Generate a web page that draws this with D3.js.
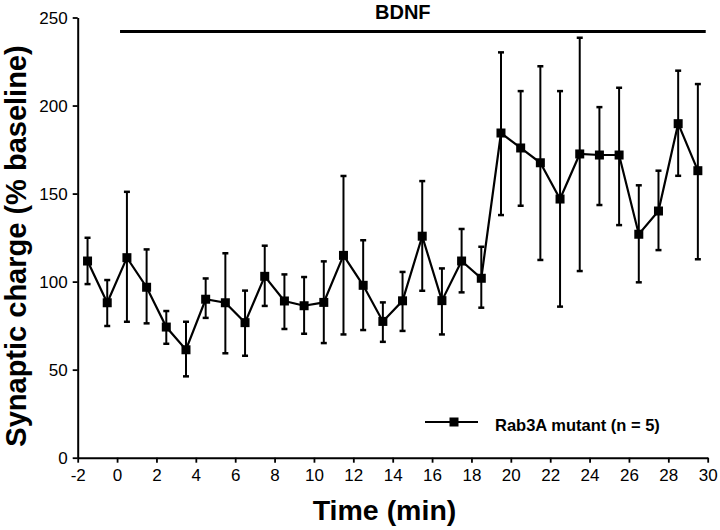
<!DOCTYPE html>
<html>
<head>
<meta charset="utf-8">
<script src="https://cdn.jsdelivr.net/npm/d3@7"></script>
<style>
  html, body { margin: 0; padding: 0; background: #fff; }
  svg { display: block; font-family: "Liberation Sans", Arial, Helvetica, sans-serif; }
</style>
</head>
<body>
<svg id="chart" width="720" height="530"></svg>
<script>
// ---- data ----
const times = [-1.5, -0.5, 0.5, 1.5, 2.5, 3.5, 4.5, 5.5, 6.5, 7.5, 8.5, 9.5, 10.5, 11.5, 12.5, 13.5,
               14.5, 15.5, 16.5, 17.5, 18.5, 19.5, 20.5, 21.5, 22.5, 23.5, 24.5, 25.5, 26.5, 27.5, 28.5, 29.5];
const means = [111.7, 88.0, 113.6, 96.8, 74.2, 61.3, 90.0, 88.0, 76.7, 103.0, 89.0, 86.3, 88.2, 114.9, 97.9, 77.4,
               89.1, 125.8, 89.2, 111.7, 101.9, 184.4, 175.9, 167.5, 146.9, 172.5, 171.9, 171.9, 126.9, 140.1, 189.7, 163.0];
const upper = [124.9, 100.9, 151.0, 118.3, 83.3, 77.2, 101.8, 116.1, 94.9, 120.4, 104.1, 102.6, 111.5, 160.0, 123.5, 88.2,
               105.5, 157.1, 107.5, 129.9, 119.8, 230.2, 208.2, 222.3, 208.2, 238.5, 199.1, 210.1, 154.7, 163.0, 219.8, 212.2];
const lower = [98.6, 74.8, 77.2, 76.3, 64.7, 46.2, 79.4, 59.3, 57.9, 86.2, 73.1, 70.4, 65.1, 70.0, 72.5, 65.8,
               72.0, 94.8, 70.0, 93.9, 85.2, 137.8, 143.1, 112.3, 85.8, 106.0, 143.5, 132.1, 99.6, 117.9, 160.1, 112.7];
const xTicks = [-2, 0, 2, 4, 6, 8, 10, 12, 14, 16, 18, 20, 22, 24, 26, 28, 30];
const yTicks = [0, 50, 100, 150, 200, 250];
const bdnfRange = [0.15, 29.9];
const bdnfLevel = 242;
const xLabel = "Time (min)";
const yLabel = "Synaptic charge (% baseline)";
const bdnfLabel = "BDNF";
const legendLabel = "Rab3A mutant (n = 5)";

// ---- layout ----
const svg = d3.select("#chart");
const x = d3.scaleLinear().domain([-2, 30]).range([77.7, 707.7]);
const y = d3.scaleLinear().domain([0, 250]).range([457.7, 17.5]);

const data = times.map((t, i) => ({ t, m: means[i], hi: upper[i], lo: lower[i] }));

// axes
const xAxis = svg.append("g").attr("transform", `translate(0,${y(0)})`)
  .call(d3.axisBottom(x).tickValues(xTicks).tickSize(5).tickSizeOuter(0).tickPadding(4).tickFormat(d => String(d)));
const yAxis = svg.append("g").attr("transform", `translate(${x(-2)},0)`)
  .call(d3.axisLeft(y).tickValues(yTicks).tickSize(5).tickSizeOuter(0).tickPadding(5).tickFormat(d => String(d)));
[xAxis, yAxis].forEach(g => {
  g.select(".domain").attr("stroke", "#000").attr("stroke-width", 2);
  g.selectAll(".tick line").attr("stroke", "#000").attr("stroke-width", 1.8);
  g.selectAll(".tick text").attr("fill", "#000").style("font-size", "17px")
    .style("font-family", '"Liberation Sans", Arial, Helvetica, sans-serif');
});
xAxis.selectAll(".tick text").attr("dy", "0.85em");
yAxis.selectAll(".tick text").attr("dy", "0.36em");

// error bars
const capW = 3;
const eb = svg.append("g").attr("stroke", "#000").attr("stroke-width", 2);
eb.selectAll("line.v").data(data).join("line")
  .attr("x1", d => x(d.t)).attr("x2", d => x(d.t))
  .attr("y1", d => y(d.hi)).attr("y2", d => y(d.lo));
eb.selectAll("line.hi").data(data).join("line")
  .attr("x1", d => x(d.t) - capW).attr("x2", d => x(d.t) + capW)
  .attr("y1", d => y(d.hi)).attr("y2", d => y(d.hi)).attr("stroke-width", 2.5);
eb.selectAll("line.lo").data(data).join("line")
  .attr("x1", d => x(d.t) - capW).attr("x2", d => x(d.t) + capW)
  .attr("y1", d => y(d.lo)).attr("y2", d => y(d.lo)).attr("stroke-width", 2.5);

// line
svg.append("path").datum(data)
  .attr("fill", "none").attr("stroke", "#000").attr("stroke-width", 2.2)
  .attr("d", d3.line().x(d => x(d.t)).y(d => y(d.m)));

// markers
const ms = 9;
svg.append("g").selectAll("rect").data(data).join("rect")
  .attr("x", d => x(d.t) - ms / 2).attr("y", d => y(d.m) - ms / 2)
  .attr("width", ms).attr("height", ms).attr("fill", "#000");

// BDNF bar
svg.append("line")
  .attr("x1", x(bdnfRange[0])).attr("x2", x(bdnfRange[1]))
  .attr("y1", y(bdnfLevel)).attr("y2", y(bdnfLevel))
  .attr("stroke", "#000").attr("stroke-width", 3);
svg.append("text").attr("x", 375).attr("y", 18.5)
  .style("font-size", "20px").style("font-weight", "bold").text(bdnfLabel);

// legend
const lg = svg.append("g");
lg.append("line").attr("x1", 425).attr("x2", 478).attr("y1", 422).attr("y2", 422)
  .attr("stroke", "#000").attr("stroke-width", 2);
lg.append("rect").attr("x", 454 - ms / 2).attr("y", 422 - ms / 2).attr("width", ms).attr("height", ms).attr("fill", "#000");
lg.append("text").attr("x", 495).attr("y", 430.5)
  .style("font-size", "16.5px").style("font-weight", "bold").text(legendLabel);

// axis titles
svg.append("text").attr("x", 384.5).attr("y", 520).attr("text-anchor", "middle")
  .style("font-size", "28.5px").style("font-weight", "bold").text(xLabel);
svg.append("text").attr("transform", "translate(26,246) rotate(-90)").attr("text-anchor", "middle")
  .style("font-size", "29px").style("font-weight", "bold").text(yLabel);
</script>
</body>
</html>
